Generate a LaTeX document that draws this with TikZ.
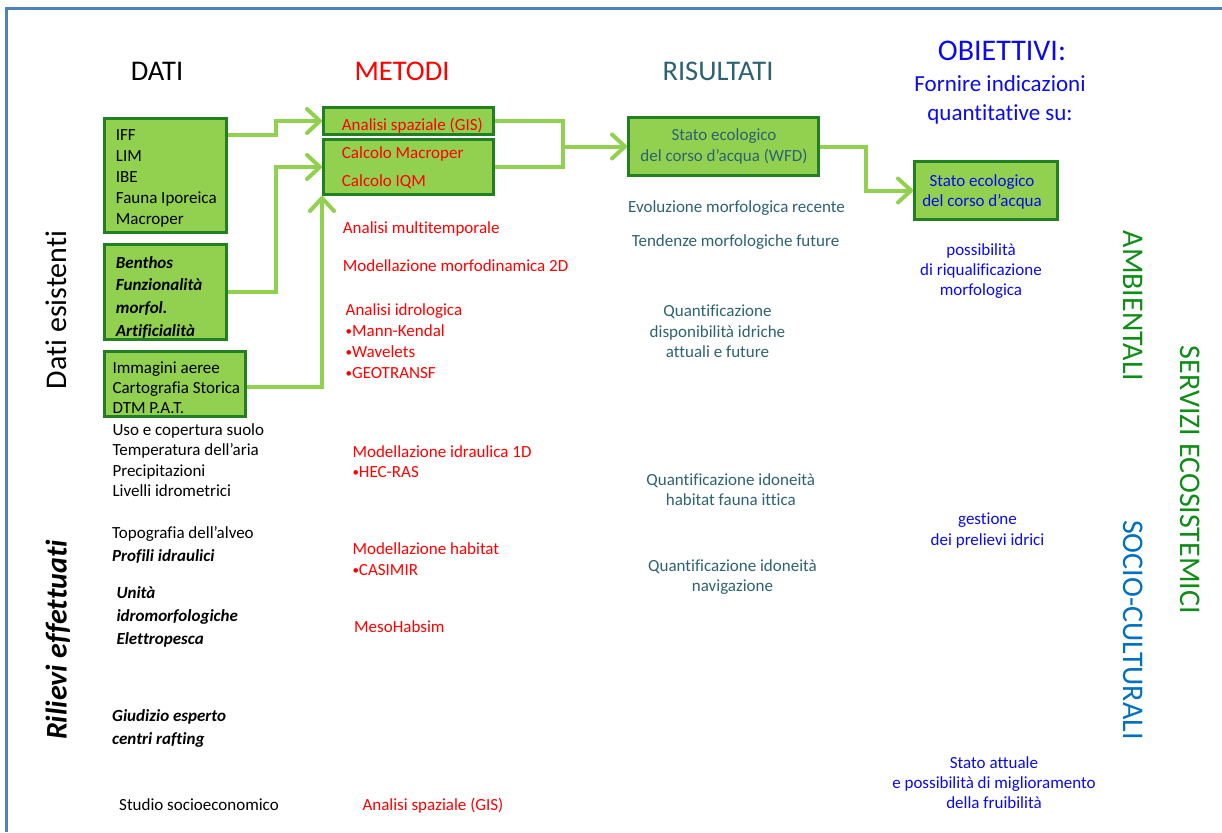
\documentclass[tikz,border=0pt]{standalone}
\usepackage{fontspec}
\setmainfont{Carlito}[Ligatures=CommonOff]
\usetikzlibrary{arrows.meta,calc}

\definecolor{framebl}{RGB}{79,129,189}
\definecolor{boxfill}{RGB}{146,208,80}
\definecolor{boxline}{RGB}{34,128,34}
\definecolor{linkgr}{RGB}{146,208,80}
\definecolor{metred}{RGB}{255,0,0}
\definecolor{restl}{RGB}{45,98,112}
\definecolor{objbl}{RGB}{10,10,235}
\definecolor{envgr}{RGB}{16,140,24}
\definecolor{socbl}{RGB}{0,112,192}

\newcommand{\fs}[2]{\fontsize{#1}{#2}\selectfont}
\newcommand{\blt}{\raisebox{0.8pt}{\fs{13}{13}•}}

\begin{document}
\begin{tikzpicture}[x=1pt,y=-1pt,
  box/.style={draw=boxline, fill=boxfill, line width=3pt, inner sep=0, rectangle},
  link/.style={draw=linkgr, line width=4pt, -{Straight Barb[length=13pt,width=24pt,round]}},
  plainlink/.style={draw=linkgr, line width=4pt},
  lefttxt/.style={inner sep=0, align=left, anchor=base west},
  midtxt/.style={inner sep=0, align=center, anchor=base},
  title/.style={inner sep=0, anchor=base, font=\fs{28.5}{34}},
  side/.style={inner sep=0, anchor=base, font=\fs{30}{36}},
  dat/.style={lefttxt, text=black},
  met/.style={lefttxt, text=metred},
  res/.style={midtxt, text=restl},
  obj/.style={midtxt, text=objbl}
]
\useasboundingbox (0,0) rectangle (1222,832);

% outer frame
\draw[framebl, line width=3pt] (6.7,832) -- (6.7,8.3) -- (1222,8.3);

% column titles (multi-line texts are placed by the baseline of their last line)
\node[title] (tDati) at (157,81) {DATI};
\node[title, text=metred] (tMet) at (402,81) {METODI};
\node[title, text=restl] (tRis) at (718,81) {RISULTATI};
\node[inner sep=0, anchor=base, text=objbl, font=\fs{30}{36}] (tObj) at (1002,60.7) {OBIETTIVI:};
\node[obj, font=\fs{23}{29}] (tObjSub) at (1000,120.7) {Fornire indicazioni\\quantitative su:};

% side labels
\node[side, rotate=90] (lEsist) at (66.5,310) {Dati esistenti};
\node[side, rotate=90, font=\fs{30}{36}\bfseries\itshape] (lRil) at (66.5,640) {Rilievi effettuati};
\node[side, rotate=-90, text=envgr] (lAmb) at (1123.5,306) {AMBIENTALI};
\node[side, rotate=-90, text=envgr] (lServ) at (1180,480) {SERVIZI ECOSISTEMICI};
\node[side, rotate=-90, text=socbl] (lSoc) at (1123.5,630) {SOCIO-CULTURALI};

% green boxes
\node[box, minimum width=122, minimum height=114] (dA) at (165.5,175.5) {};
\node[box, minimum width=122, minimum height=95] (dB) at (165.5,292) {};
\node[box, minimum width=141, minimum height=65] (dC) at (175,384) {};
\node[box, minimum width=170, minimum height=27] (mA) at (408.5,121) {};
\node[box, minimum width=170, minimum height=55] (mB) at (408.5,167) {};
\node[box, minimum width=190, minimum height=58] (rS) at (723.5,146.5) {};
\node[box, minimum width=143, minimum height=58] (oS) at (986,190.5) {};

% connectors
\draw[link] ([yshift=40.5pt]dA.east) -- ++(48,0) |- (mA.west);
\draw[link] (dB.east) -- ++(48,0) |- (mB.west);
\draw[link] ([yshift=-3pt]dC.east) -| (mB.south west);
\draw[plainlink] (mA.east) -- ++(68,0) coordinate (jn) |- (mB.east);
\draw[link] (jn |- rS.west) -- (rS.west);
\draw[link] (rS.east) -- ++(46,0) |- (oS.west);

% data column
\node[dat, font=\fs{17}{21}] (dAt) at (115.7,224.5) {IFF\\LIM\\IBE\\Fauna Iporeica\\Macroper};
\node[dat, font=\fs{17}{22.8}\bfseries\itshape] (dBt) at (115.7,336.4) {Benthos\\Funzionalità\\morfol.\\Artificialità};
\node[dat, font=\fs{17}{20}] (dCt) at (112.3,413.3) {Immagini aeree\\Cartografia Storica\\DTM P.A.T.};
\node[dat, font=\fs{17}{20.6}] (dD) at (112.3,496.8) {Uso e copertura suolo\\Temperatura dell’aria\\Precipitazioni\\Livelli idrometrici};
\node[dat, font=\fs{17}{22.7}] (dE) at (112,561) {Topografia dell’alveo\\{\bfseries\itshape Profili idraulici}};
\node[dat, font=\fs{17}{23.3}\bfseries\itshape] (dF) at (116.3,644.9) {Unità\\idromorfologiche\\Elettropesca};
\node[dat, font=\fs{17}{22.6}\bfseries\itshape] (dG) at (112,744.3) {Giudizio esperto\\centri rafting};
\node[dat, font=\fs{17}{20}] (dH) at (119,810.7) {Studio socioeconomico};

% methods column
\node[met, font=\fs{17}{20}] (mAt) at (341.7,130) {Analisi spaziale (GIS)};
\node[met, font=\fs{17}{28.4}] (mBt) at (341.7,186.7) {Calcolo Macroper\\Calcolo IQM};
\node[met, font=\fs{17}{20}] (m1) at (342.7,233.3) {Analisi multitemporale};
\node[met, font=\fs{17}{20}] (m2) at (342.7,271.7) {Modellazione morfodinamica 2D};
\node[met, font=\fs{17}{21.1}] (m3) at (345.5,378.3) {Analisi idrologica\\\blt Mann-Kendal\\\blt Wavelets\\\blt GEOTRANSF};
\node[met, font=\fs{17}{20}] (m4) at (352.3,477.3) {Modellazione idraulica 1D\\\blt HEC-RAS};
\node[met, font=\fs{17}{21}] (m5) at (352.3,575) {Modellazione habitat\\\blt CASIMIR};
\node[met, font=\fs{17}{20}] (m6) at (354,632.3) {MesoHabsim};
\node[met, font=\fs{17}{20}] (m7) at (362.3,810.7) {Analisi spaziale (GIS)};

% results column
\node[res, font=\fs{17}{21}] (rSt) at (724,161.7) {Stato ecologico\\del corso d’acqua (WFD)};
\node[res, font=\fs{17}{20}] (r1) at (736.5,212.7) {Evoluzione morfologica recente};
\node[res, font=\fs{17}{20}] (r2) at (735.5,246.7) {Tendenze morfologiche future};
\node[res, font=\fs{17}{20.3}] (r3) at (717.5,357.3) {Quantificazione\\disponibilità idriche\\attuali e future};
\node[res, font=\fs{17}{20}] (r4) at (730.8,505) {Quantificazione idoneità\\habitat fauna ittica};
\node[res, font=\fs{17}{20}] (r5) at (732.5,591.7) {Quantificazione idoneità\\navigazione};

% objectives column
\node[obj, font=\fs{17}{20.7}] (oSt) at (982,206.7) {Stato ecologico\\del corso d’acqua};
\node[obj, font=\fs{17}{20}] (o1) at (981,295) {possibilità\\di riqualificazione\\morfologica};
\node[obj, font=\fs{17}{21}] (o2) at (987.5,545) {gestione\\dei prelievi idrici};
\node[obj, font=\fs{17}{20}] (o3) at (994,808.3) {Stato attuale\\e possibilità di miglioramento\\della fruibilità};
\end{tikzpicture}
\end{document}
